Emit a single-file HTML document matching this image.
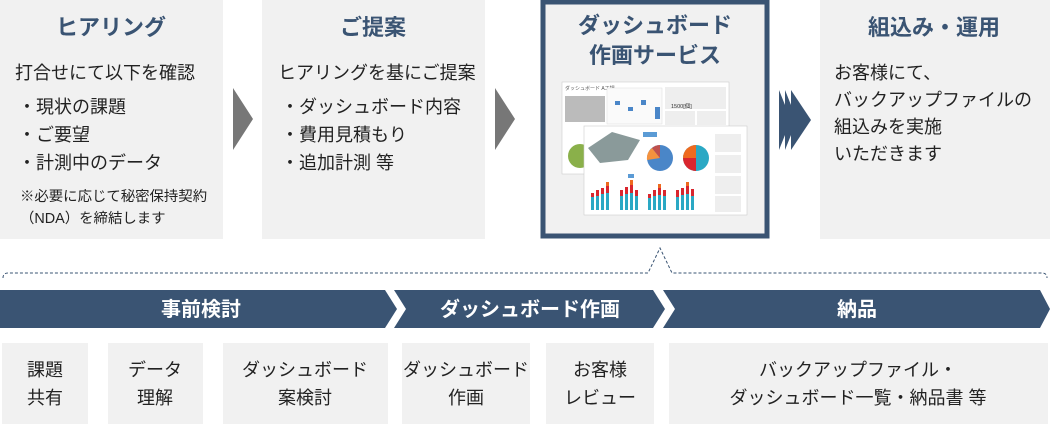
<!DOCTYPE html>
<html><head><meta charset="utf-8"><style>
html,body{margin:0;padding:0;background:#fff;width:1050px;height:430px;overflow:hidden}
svg text{font-family:"Liberation Sans","Noto Sans CJK JP",sans-serif}
</style></head><body>
<svg width="1050" height="430" viewBox="0 0 1050 430" xmlns="http://www.w3.org/2000/svg">
<rect x="0" y="0" width="223" height="239" fill="#f1f1f1"/>
<rect x="262" y="0" width="223" height="239" fill="#f1f1f1"/>
<rect x="543" y="2" width="224" height="234" fill="#f1f1f1" stroke="#3a5473" stroke-width="5"/>
<rect x="820" y="0" width="230" height="239" fill="#f1f1f1"/>
<polygon points="233,88 253,119 233,150" fill="#777"/>
<polygon points="495,88 515,119 495,150" fill="#777"/>
<polygon points="779,90 791,120 779,150" fill="#3a5473"/>
<polygon points="785,90 797,120 785,150" fill="#3a5473"/>
<polygon points="791,90 811,120 791,150" fill="#3a5473"/>
<g fill="#3a5473" font-weight="bold" font-size="22" text-anchor="middle">
<text x="111" y="35">ヒアリング</text>
<text x="373" y="35">ご提案</text>
<text x="655" y="33">ダッシュボード</text>
<text x="655" y="63">作画サービス</text>
<text x="934" y="35">組込み・運用</text>
</g>
<g fill="#222" font-size="18">
<text x="15" y="79">打合せにて以下を確認</text>
<text x="18" y="113">・現状の課題</text>
<text x="18" y="141">・ご要望</text>
<text x="18" y="169">・計測中のデータ</text>
<text x="20" y="201" font-size="14.4">※必要に応じて秘密保持契約</text>
<text x="20" y="223" font-size="14.4">（NDA）を締結します</text>
<text x="278" y="79">ヒアリングを基にご提案</text>
<text x="281" y="113">・ダッシュボード内容</text>
<text x="281" y="141">・費用見積もり</text>
<text x="281" y="169">・追加計測 等</text>
<text x="834" y="79">お客様にて、</text>
<text x="834" y="106">バックアップファイルの</text>
<text x="834" y="133">組込みを実施</text>
<text x="834" y="160">いただきます</text>
</g>
<rect x="562" y="82" width="167" height="92" fill="#fff" stroke="#ccc" stroke-width="0.6"/>
<text x="565" y="90" font-size="5" fill="#555">ダッシュボード A工場</text>
<rect x="565" y="96" width="40" height="26" fill="#bbb"/>
<rect x="607" y="88" width="55" height="36" fill="#fafafa" stroke="#ddd" stroke-width="0.5"/>
<rect x="615" y="101" width="5" height="4" fill="#4a86c8"/>
<rect x="628" y="107" width="5" height="4" fill="#4a86c8"/>
<rect x="641" y="100" width="5" height="5" fill="#4a86c8"/>
<rect x="655" y="107" width="5" height="12" fill="#4a86c8"/>
<rect x="665" y="87" width="61" height="22" fill="#eee"/>
<text x="671" y="108" font-size="5.5" fill="#333">1500[個]</text>
<rect x="665" y="111" width="30" height="14" fill="#eee"/>
<rect x="697" y="111" width="29" height="14" fill="#eee"/>
<circle cx="580" cy="156" r="12" fill="#8ab04a"/>
<rect x="584" y="126" width="163" height="89" fill="#fff" stroke="#ccc" stroke-width="0.6"/>
<polygon points="588,148 612,132 640,140 628,160 600,163" fill="#8a9a9a"/>
<rect x="643" y="132" width="14" height="5" fill="#5b9bd5"/>
<circle cx="660" cy="158" r="13" fill="#4a86c8"/>
<path d="M660,158 L647,160 A13,13 0 0 1 652,148 Z" fill="#f5923e"/>
<path d="M660,158 L652,148 A13,13 0 0 1 660,145 Z" fill="#c0504d"/>
<circle cx="696" cy="158" r="13" fill="#2aa8c4"/>
<path d="M696,158 L696,171 A13,13 0 0 1 683,158 Z" fill="#d9262e"/>
<path d="M696,158 L683,158 A13,13 0 0 1 696,145 Z" fill="#ee6a1f"/>
<rect x="628" y="174" width="6" height="4" fill="#5b9bd5"/>
<g fill="#2aa8c4">
<rect x="591" y="197" width="3" height="13"/><rect x="596" y="196" width="3" height="14"/><rect x="601" y="194" width="3" height="16"/><rect x="606" y="193" width="3" height="17"/>
<rect x="620" y="196" width="3" height="14"/><rect x="625" y="194" width="3" height="16"/><rect x="630" y="193" width="3" height="17"/><rect x="635" y="196" width="3" height="14"/>
<rect x="648" y="198" width="3" height="12"/><rect x="653" y="196" width="3" height="14"/><rect x="658" y="195" width="3" height="15"/><rect x="663" y="196" width="3" height="14"/>
<rect x="676" y="197" width="3" height="13"/><rect x="681" y="195" width="3" height="15"/><rect x="686" y="194" width="3" height="16"/><rect x="691" y="196" width="3" height="14"/>
</g>
<g fill="#d9262e">
<rect x="591" y="193" width="3" height="4"/><rect x="596" y="190" width="3" height="6"/><rect x="601" y="188" width="3" height="6"/><rect x="606" y="186" width="3" height="7"/>
<rect x="620" y="190" width="3" height="6"/><rect x="625" y="187" width="3" height="7"/><rect x="630" y="185" width="3" height="8"/><rect x="635" y="190" width="3" height="6"/>
<rect x="648" y="194" width="3" height="4"/><rect x="653" y="190" width="3" height="6"/><rect x="658" y="188" width="3" height="7"/><rect x="663" y="190" width="3" height="6"/>
<rect x="676" y="190" width="3" height="7"/><rect x="681" y="188" width="3" height="7"/><rect x="686" y="186" width="3" height="8"/><rect x="691" y="189" width="3" height="7"/>
</g>
<g fill="#ee6a1f">
<rect x="606" y="182" width="3" height="4"/><rect x="630" y="180" width="3" height="5"/><rect x="658" y="184" width="3" height="4"/><rect x="686" y="182" width="3" height="4"/>
</g>
<rect x="715" y="134" width="26" height="18" fill="#eee"/>
<rect x="715" y="155" width="26" height="18" fill="#eee"/>
<rect x="715" y="176" width="26" height="18" fill="#eee"/>
<rect x="715" y="196" width="26" height="16" fill="#eee"/>
<path d="M3,278 Q3,273 8,273 L648,273 L660,248 L672,273 L1042,273 Q1047,273 1047,278" fill="none" stroke="#3a5473" stroke-width="1" stroke-dasharray="3,2"/>
<polygon points="0,290 385,290 397,309 385,328 0,328" fill="#3a5473"/>
<polygon points="394,290 653,290 665,309 653,328 394,328 406,309" fill="#3a5473"/>
<polygon points="663,290 1040,290 1050,309 1040,328 663,328 675,309" fill="#3a5473"/>
<g fill="#fff" font-weight="bold" font-size="20" text-anchor="middle">
<text x="201" y="316">事前検討</text>
<text x="530" y="316">ダッシュボード作画</text>
<text x="857" y="316">納品</text>
</g>
<g fill="#f1f1f1">
<rect x="2" y="343" width="86" height="81"/>
<rect x="108" y="343" width="95" height="81"/>
<rect x="223" y="343" width="165" height="81"/>
<rect x="402" y="343" width="128" height="81"/>
<rect x="546" y="343" width="108" height="81"/>
<rect x="669" y="343" width="379" height="81"/>
</g>
<g fill="#222" font-size="18" text-anchor="middle">
<text x="45" y="376">課題</text><text x="45" y="404">共有</text>
<text x="155" y="376">データ</text><text x="155" y="404">理解</text>
<text x="305" y="376">ダッシュボード</text><text x="305" y="404">案検討</text>
<text x="466" y="376">ダッシュボード</text><text x="466" y="404">作画</text>
<text x="600" y="376">お客様</text><text x="600" y="404">レビュー</text>
<text x="858" y="376">バックアップファイル・</text><text x="858" y="404">ダッシュボード一覧・納品書 等</text>
</g>
</svg>
</body></html>
